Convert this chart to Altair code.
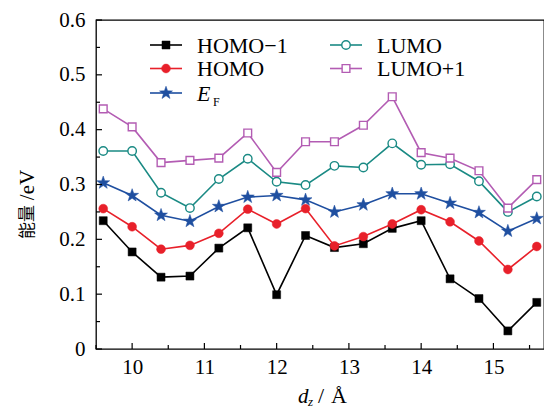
import altair as alt
import pandas as pd

# ---- data ----
dz = [9.6, 10.0, 10.4, 10.8, 11.2, 11.6, 12.0, 12.4, 12.8, 13.2, 13.6, 14.0, 14.4, 14.8, 15.2, 15.6]
homo_m1 = [0.234, 0.177, 0.131, 0.133, 0.184, 0.221, 0.099, 0.207, 0.185, 0.192, 0.220, 0.234, 0.128, 0.092, 0.033, 0.085]
homo = [0.256, 0.223, 0.182, 0.189, 0.211, 0.255, 0.228, 0.256, 0.188, 0.205, 0.228, 0.254, 0.232, 0.197, 0.145, 0.187]
e_f = [0.303, 0.280, 0.244, 0.233, 0.260, 0.277, 0.280, 0.272, 0.250, 0.263, 0.283, 0.283, 0.266, 0.249, 0.215, 0.238]
lumo = [0.361, 0.361, 0.285, 0.257, 0.310, 0.347, 0.305, 0.299, 0.334, 0.331, 0.375, 0.336, 0.337, 0.306, 0.250, 0.278]
lumo_p1 = [0.438, 0.405, 0.340, 0.344, 0.348, 0.394, 0.322, 0.378, 0.378, 0.408, 0.460, 0.358, 0.348, 0.325, 0.257, 0.309]

series_names = ["HOMO−1", "HOMO", "E_F", "LUMO", "LUMO+1"]
series_values = [homo_m1, homo, e_f, lumo, lumo_p1]

x_ticks = [10, 11, 12, 13, 14, 15]
x_minor = [9.5, 10.5, 11.5, 12.5, 13.5, 14.5, 15.5]
y_ticks = [0.0, 0.1, 0.2, 0.3, 0.4, 0.5, 0.6]
y_minor = [0.05, 0.15, 0.25, 0.35, 0.45, 0.55]

# ---- styling ----
FONT = "Liberation Serif"
W, H = 448, 329
STAR = ("M0,-1L0.235,-0.324L0.951,-0.309L0.38,0.124L0.588,0.809L0,0.4"
        "L-0.588,0.809L-0.38,0.124L-0.951,-0.309L-0.235,-0.324Z")
styles = {
    "HOMO−1": dict(color="#000000", shape="square", filled=True, size=64),
    "HOMO": dict(color="#e8202a", shape="circle", filled=True, size=78),
    "E_F": dict(color="#1f4fa0", shape=STAR, filled=True, size=185),
    "LUMO": dict(color="#1a8a84", shape="circle", filled=False, size=72),
    "LUMO+1": dict(color="#b35cb3", shape="square", filled=False, size=60),
}

xs = alt.Scale(domain=[9.5, 15.7], nice=False, zero=False)
ys = alt.Scale(domain=[0, 0.6], nice=False, zero=False)

xaxis = alt.Axis(values=x_ticks, format="d", ticks=False, domain=False, grid=False,
                 labelFont=FONT, labelFontSize=21, labelColor="black", labelPadding=7,
                 labelFlush=False, labelOverlap=False, title=None)
yaxis = alt.Axis(values=y_ticks, format=".1~f", ticks=False, domain=False, grid=False,
                 labelFont=FONT, labelFontSize=21, labelColor="black", labelPadding=11,
                 labelFlush=False, labelOverlap=False, title=None)


def X(field):
    return alt.X(field, scale=xs, axis=xaxis)


def Y(field):
    return alt.Y(field, scale=ys, axis=yaxis)


def point_mark(st):
    return dict(shape=st["shape"], size=st["size"], filled=True,
                fill=st["color"] if st["filled"] else "white", stroke=st["color"],
                strokeWidth=1.4 if not st["filled"] else 0.5, opacity=1)


layers = []
for name, vals in zip(series_names, series_values):
    st = styles[name]
    base = alt.Chart(pd.DataFrame({"dz": dz, "v": vals}))
    layers.append(base.mark_line(color=st["color"], strokeWidth=1.6).encode(x=X("dz:Q"), y=Y("v:Q")))
    layers.append(base.mark_point(**point_mark(st)).encode(x=X("dz:Q"), y=Y("v:Q")))

# inward ticks
tick_layers = [
    alt.Chart(pd.DataFrame({"t": y_ticks})).mark_rule(color="black", strokeWidth=1.2).encode(
        y=Y("t:Q"), x=alt.value(0), x2=alt.value(6)),
    alt.Chart(pd.DataFrame({"t": y_minor})).mark_rule(color="black", strokeWidth=1.2).encode(
        y=Y("t:Q"), x=alt.value(0), x2=alt.value(4)),
    alt.Chart(pd.DataFrame({"t": x_ticks})).mark_rule(color="black", strokeWidth=1.2).encode(
        x=X("t:Q"), y=alt.value(H), y2=alt.value(H - 6)),
    alt.Chart(pd.DataFrame({"t": x_minor})).mark_rule(color="black", strokeWidth=1.2).encode(
        x=X("t:Q"), y=alt.value(H), y2=alt.value(H - 4)),
]

# legend (manual, two columns) -- layout positions in pixels
one = alt.Data(values=[{}])
col_x = [54, 234]
row_y = [25, 48.5, 73]
legend_layers = []
for i, name in enumerate(series_names):
    c, r = (0, i) if i < 3 else (1, i - 3)
    st = styles[name]
    x1, y = col_x[c], row_y[r]
    legend_layers.append(alt.Chart(one).mark_rule(color=st["color"], strokeWidth=1.6).encode(
        x=alt.value(x1), x2=alt.value(x1 + 32), y=alt.value(y)))
    legend_layers.append(alt.Chart(one).mark_point(**point_mark(st)).encode(
        x=alt.value(x1 + 16), y=alt.value(y)))
    tx, ty = x1 + 47, y + 7.5
    if name == "E_F":
        legend_layers.append(alt.Chart(one).mark_text(
            text="E", font=FONT, fontSize=22, fontStyle="italic", align="left",
            baseline="alphabetic", color="black").encode(x=alt.value(tx), y=alt.value(ty)))
        legend_layers.append(alt.Chart(one).mark_text(
            text="F", font=FONT, fontSize=12, align="left", baseline="alphabetic",
            color="black").encode(x=alt.value(tx + 16), y=alt.value(ty + 5)))
    else:
        legend_layers.append(alt.Chart(one).mark_text(
            text=name, font=FONT, fontSize=22, align="left",
            baseline="alphabetic", color="black").encode(x=alt.value(tx), y=alt.value(ty)))

# axis titles
title_layers = [
    alt.Chart(one).mark_text(text="能量", font="Noto Sans CJK SC", fontSize=17, angle=270,
                             align="center", baseline="middle", color="black").encode(
        x=alt.value(-68), y=alt.value(202)),
    alt.Chart(one).mark_text(text="/eV", font=FONT, fontSize=21, angle=270,
                             align="center", baseline="middle", color="black").encode(
        x=alt.value(-68), y=alt.value(165)),
    alt.Chart(one).mark_text(text="d", font=FONT, fontSize=21, fontStyle="italic",
                             align="left", baseline="alphabetic", color="black").encode(
        x=alt.value(202), y=alt.value(383)),
    alt.Chart(one).mark_text(text="z", font=FONT, fontSize=13, fontStyle="italic",
                             align="left", baseline="alphabetic", color="black").encode(
        x=alt.value(212), y=alt.value(386)),
    alt.Chart(one).mark_text(text="/", font=FONT, fontSize=22,
                             align="center", baseline="alphabetic", color="black").encode(
        x=alt.value(225), y=alt.value(383)),
    alt.Chart(one).mark_text(text="Å", font=FONT, fontSize=22,
                             align="center", baseline="alphabetic", color="black").encode(
        x=alt.value(243), y=alt.value(383)),
]

chart = alt.layer(*layers, *tick_layers, *legend_layers, *title_layers).properties(
    width=W, height=H,
    padding={"left": 96, "top": 20, "right": 0, "bottom": 65},
    autosize=alt.AutoSizeParams(type="none"),
    background="white",
).configure_view(stroke="black", strokeWidth=1.3)

chart.save("out.html", embed_options={"renderer": "svg", "actions": False})
